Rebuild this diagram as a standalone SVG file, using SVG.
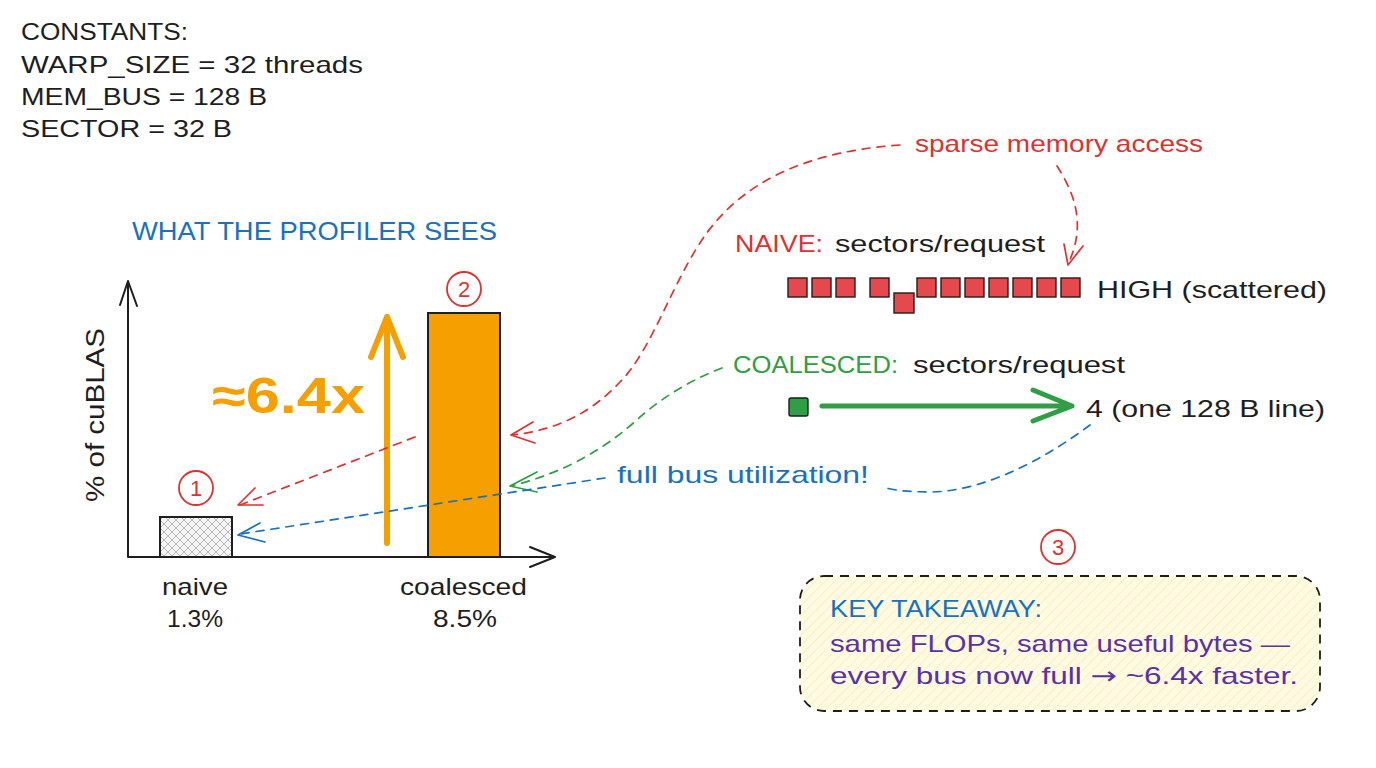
<svg xmlns="http://www.w3.org/2000/svg" width="1376" height="768" viewBox="0 0 1376 768">
<defs>
<style>
text{font-family:"Liberation Sans","DejaVu Sans",sans-serif;font-size:24px;fill:#1e1e1e}
.blue{fill:#1971c2}.red{fill:#e03131}.green{fill:#2f9e44}.purple{fill:#5a32a8}
.axis{stroke:#1e1e1e;stroke-width:2;fill:none;stroke-linecap:round;stroke-linejoin:round}
.dash{fill:none;stroke-width:1.7;stroke-dasharray:8 7;stroke-linecap:round}
.head{fill:none;stroke-width:1.7;stroke-linecap:round;stroke-linejoin:round}
.rs{stroke:#e03131}.gs{stroke:#2f9e44}.bs{stroke:#1971c2}
.sq{fill:#e5484d;stroke:#2a1a1a;stroke-width:1.4}
.badge{fill:none;stroke:#e03131;stroke-width:1.8}
.num{font-size:22px;fill:#e03131;text-anchor:middle}
</style>
<pattern id="xhatch" width="8" height="8" patternUnits="userSpaceOnUse">
<rect width="8" height="8" fill="#f4f4f4"/>
<path d="M0,0 L8,8 M8,0 L0,8" stroke="#a8a8a8" stroke-width="0.8"/>
</pattern>
<pattern id="yhatch" width="7" height="7" patternUnits="userSpaceOnUse" patternTransform="rotate(45)">
<rect width="7" height="7" fill="#fffbe3"/>
<line x1="0" y1="0" x2="0" y2="7" stroke="#f3e7a6" stroke-width="1.2"/>
</pattern>
</defs>
<rect width="1376" height="768" fill="#ffffff"/>

<g id="constants">
<text x="21" y="40" textLength="167" lengthAdjust="spacingAndGlyphs">CONSTANTS:</text>
<text x="21" y="73" textLength="342" lengthAdjust="spacingAndGlyphs">WARP_SIZE = 32 threads</text>
<text x="21" y="105" textLength="246" lengthAdjust="spacingAndGlyphs">MEM_BUS = 128 B</text>
<text x="21" y="137" textLength="211" lengthAdjust="spacingAndGlyphs">SECTOR = 32 B</text>
</g>

<g id="title">
<text class="blue" x="132" y="240" style="font-size:25px" textLength="365" lengthAdjust="spacingAndGlyphs">WHAT THE PROFILER SEES</text>
</g>

<g id="chart-axes">
<path class="axis" d="M128,557 L128,281 M120,305 L128,281 L137,306 M128,557 L555,557 M530,547 L555,557 L530,567"/>
<text transform="translate(104,415) rotate(-90)" style="font-size:25px" text-anchor="middle" textLength="174" lengthAdjust="spacingAndGlyphs">% of cuBLAS</text>
</g>

<g id="bar-naive">
<rect x="160" y="517" width="72" height="40" fill="url(#xhatch)" stroke="#1e1e1e" stroke-width="2"/>
<text x="162" y="595" textLength="66" lengthAdjust="spacingAndGlyphs">naive</text>
<text x="167" y="627" textLength="56" lengthAdjust="spacingAndGlyphs">1.3%</text>
</g>

<g id="bar-coalesced">
<rect x="428" y="313" width="72" height="244" fill="#f59f00" stroke="#1e1e1e" stroke-width="2"/>
<text x="400" y="595" textLength="127" lengthAdjust="spacingAndGlyphs">coalesced</text>
<text x="433" y="627" textLength="64" lengthAdjust="spacingAndGlyphs">8.5%</text>
</g>

<g id="badge-1">
<circle class="badge" cx="196" cy="488" r="17"/>
<text class="num" x="196" y="496">1</text>
</g>
<g id="badge-2">
<circle class="badge" cx="464" cy="289" r="17"/>
<text class="num" x="464" y="297">2</text>
</g>

<g id="speedup">
<path d="M387,543 L387,317 M371,357 L387,317 L403,357" fill="none" stroke="#f59f00" stroke-width="6" stroke-linecap="round" stroke-linejoin="round"/>
<text x="212" y="413" style="font-size:50px;font-weight:bold;fill:#f59f00" textLength="153" lengthAdjust="spacingAndGlyphs">≈6.4x</text>
</g>

<g id="label-sparse">
<text class="red" x="915" y="152" textLength="288" lengthAdjust="spacingAndGlyphs">sparse memory access</text>
</g>

<g id="naive-row">
<text class="red" x="735" y="252" textLength="88" lengthAdjust="spacingAndGlyphs">NAIVE:</text>
<text x="835" y="252" textLength="210" lengthAdjust="spacingAndGlyphs">sectors/request</text>
<rect class="sq" x="788" y="278" width="19" height="19"/>
<rect class="sq" x="812" y="278" width="19" height="19"/>
<rect class="sq" x="836" y="278" width="19" height="19"/>
<rect class="sq" x="870" y="278" width="19" height="19"/>
<rect class="sq" x="894" y="293" width="20" height="20"/>
<rect class="sq" x="917" y="278" width="19" height="19"/>
<rect class="sq" x="941" y="278" width="19" height="19"/>
<rect class="sq" x="965" y="278" width="19" height="19"/>
<rect class="sq" x="989" y="278" width="19" height="19"/>
<rect class="sq" x="1013" y="278" width="19" height="19"/>
<rect class="sq" x="1037" y="278" width="19" height="19"/>
<rect class="sq" x="1061" y="278" width="19" height="19"/>
<text x="1097" y="298" textLength="230" lengthAdjust="spacingAndGlyphs">HIGH (scattered)</text>
</g>

<g id="coalesced-row">
<text class="green" x="733" y="373" textLength="165" lengthAdjust="spacingAndGlyphs">COALESCED:</text>
<text x="913" y="373" textLength="212" lengthAdjust="spacingAndGlyphs">sectors/request</text>
<rect x="789" y="398" width="19" height="18" rx="2" fill="#2f9e44" stroke="#1e1e1e" stroke-width="1.4"/>
<path d="M822,406 L1072,406 M1033,390 L1072,406 L1033,421" fill="none" stroke="#2f9e44" stroke-width="5" stroke-linecap="round" stroke-linejoin="round"/>
<text x="1086" y="417" textLength="239" lengthAdjust="spacingAndGlyphs">4 (one 128 B line)</text>
</g>

<g id="label-fullbus">
<text class="blue" x="617" y="483" textLength="252" lengthAdjust="spacingAndGlyphs">full bus utilization!</text>
</g>

<g id="takeaway">
<rect x="800" y="576" width="520" height="135" rx="24" fill="url(#yhatch)" stroke="#1e1e1e" stroke-width="1.8" stroke-dasharray="9 7"/>
<text class="blue" x="830" y="617" textLength="212" lengthAdjust="spacingAndGlyphs">KEY TAKEAWAY:</text>
<text class="purple" x="830" y="652" textLength="460" lengthAdjust="spacingAndGlyphs">same FLOPs, same useful bytes —</text>
<text class="purple" x="830" y="684" textLength="468" lengthAdjust="spacingAndGlyphs">every bus now full <tspan style="font-family:'DejaVu Sans',sans-serif">→</tspan> ~6.4x faster.</text>
</g>
<g id="badge-3">
<circle class="badge" cx="1058" cy="547" r="17"/>
<text class="num" x="1058" y="555">3</text>
</g>

<g id="connectors">
<path class="dash rs" d="M900,145 C800,152 742,185 706,234 C672,282 652,350 620,382 C594,410 560,430 512,435"/>
<path class="head rs" d="M533,422 L511,435 L535,443"/>
<path class="dash rs" d="M415,437 L240,505"/>
<path class="head rs" d="M255,488 L238,505 L263,505"/>
<path class="dash rs" d="M1057,166 C1072,190 1088,222 1068,264"/>
<path class="head rs" d="M1064,244 L1068,265 L1083,246"/>
<path class="dash gs" d="M722,368 C690,380 662,398 640,417 C610,445 568,472 511,486"/>
<path class="head gs" d="M537,472 L510,486 L537,492"/>
<path class="dash bs" d="M1090,425 C1050,455 990,490 933,492 C905,492 892,490 883,487"/>
<path class="dash bs" d="M605,478 L240,534"/>
<path class="head bs" d="M260,523 L238,535 L265,542"/>
</g>
</svg>
